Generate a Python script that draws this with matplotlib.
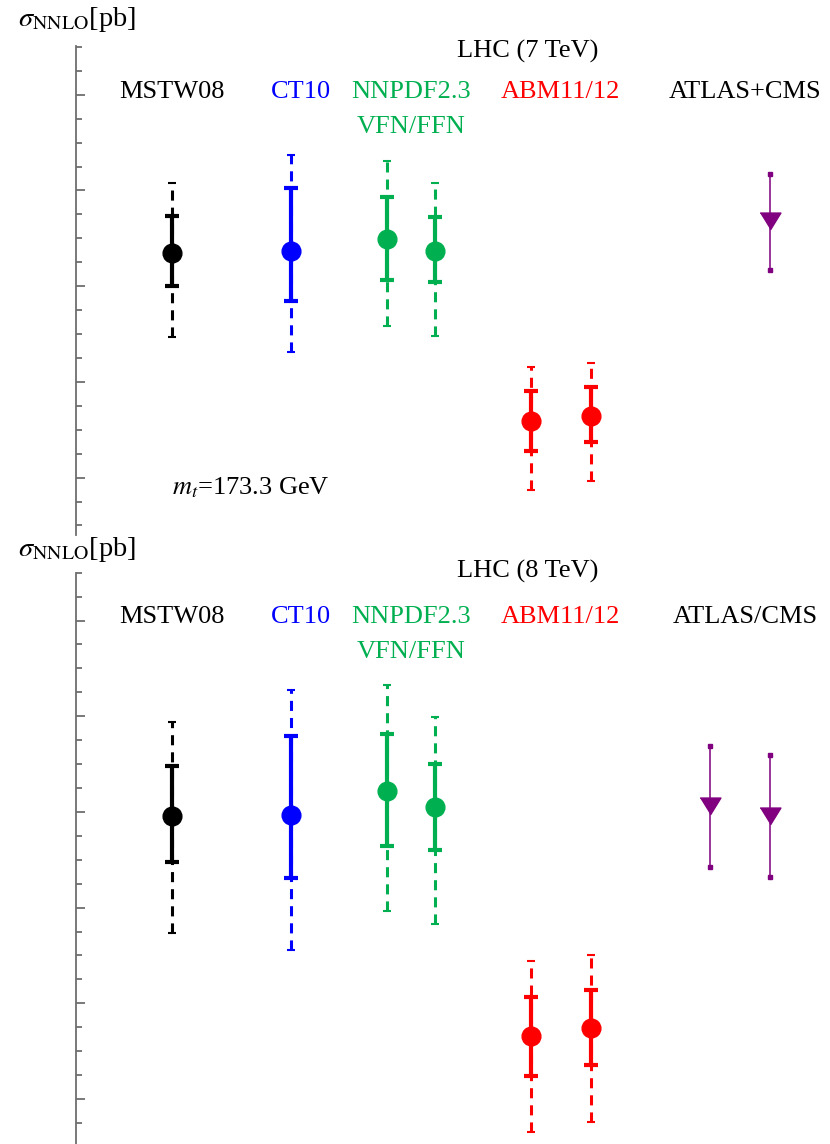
"""Top-pair NNLO cross sections at the LHC (7 and 8 TeV) for several PDF sets vs. data."""
import matplotlib
matplotlib.use("Agg")
import matplotlib.pyplot as plt
from matplotlib.ticker import MultipleLocator, NullFormatter

plt.rcParams["font.family"] = ["Liberation Serif", "DejaVu Serif"]
plt.rcParams["mathtext.fontset"] = "stix"

# PDF sets (x position on the category axis)
PDF_LABELS = ["MSTW08", "CT10", "NNPDF2.3 VFN", "NNPDF2.3 FFN", "ABM11", "ABM12"]
PDF_X = [1.0, 2.0, 2.8, 3.2, 4.0, 4.5]
PDF_COLORS = ["black", "#0000ff", "#00b050", "#00b050", "#ff0000", "#ff0000"]

# LHC 7 TeV, m_t = 173.3 GeV  [pb]
SIG7 = [167.0, 167.4, 169.9, 167.4, 131.9, 132.9]
INNER7_LO = [160.1, 156.9, 161.3, 160.8, 125.6, 127.4]
INNER7_HI = [174.7, 180.5, 178.6, 174.4, 138.0, 138.9]
OUTER7_LO = [149.4, 146.2, 151.6, 149.6, 117.4, 119.2]
OUTER7_HI = [181.5, 187.5, 186.1, 181.5, 143.1, 144.0]
EXP7_X = [6.0]
EXP7 = [173.7]
EXP7_LO = [163.3]
EXP7_HI = [183.5]

# LHC 8 TeV  [pb]
SIG8 = [239.2, 239.4, 244.4, 241.1, 193.1, 194.8]
INNER8_LO = [229.5, 226.1, 232.8, 232.1, 184.9, 187.2]
INNER8_HI = [249.5, 255.9, 256.2, 250.0, 201.4, 202.7]
OUTER8_LO = [214.7, 211.1, 219.2, 216.6, 173.1, 175.3]
OUTER8_HI = [258.8, 265.4, 266.6, 259.8, 208.8, 210.2]
EXP8_X = [5.5, 6.0]
EXP8 = [241.2, 239.2]
EXP8_LO = [228.4, 226.4]
EXP8_HI = [253.7, 251.8]

FS = 19
PURPLE = "#800080"
# 倒三角,略扁
TRI = [(-1, 0.81), (1, 0.81), (0, -0.81)]


def draw_panel(ax, sig, ilo, ihi, olo, ohi, ex, ev, elo, ehi):
    for x, c, s, a, b, lo, hi in zip(PDF_X, PDF_COLORS, sig, ilo, ihi, olo, ohi):
        ax.plot([x, x], [lo, hi], color=c, lw=2.2, ls=(0, (3.3, 2.3)), solid_capstyle="butt")
        ax.plot([x, x], [lo, hi], ls="none", marker="_", ms=6, mew=1.5, color=c)
        ax.plot([x, x], [a, b], color=c, lw=3.0, solid_capstyle="butt")
        ax.plot([x, x], [a, b], ls="none", marker="_", ms=10, mew=3.0, color=c)
        ax.plot(x, s, "o", ms=13.5, color=c, mec=c)
    for x, v, lo, hi in zip(ex, ev, elo, ehi):
        ax.plot([x, x], [lo, hi], color=PURPLE, lw=1.1)
        ax.plot([x, x], [lo, hi], ls="none", marker="s", ms=2.5, color=PURPLE)
        ax.plot(x, v, ls="none", marker=TRI, ms=15, color=PURPLE)

    ax.set_xlim(0.2, 6.5)
    for sp in ("top", "right", "bottom"):
        ax.spines[sp].set_visible(False)
    ax.spines["left"].set_color("#6e6e6e")
    ax.spines["left"].set_linewidth(1.3)
    ax.set_xticks([])
    ax.yaxis.set_major_locator(MultipleLocator(20))
    ax.yaxis.set_minor_locator(MultipleLocator(5))
    ax.yaxis.set_major_formatter(NullFormatter())
    ax.tick_params(axis="y", which="major", direction="in", length=6.5, width=1.1, color="#555555")
    ax.tick_params(axis="y", which="minor", direction="in", length=4, width=1.1, color="#555555")


def labels(ax, y_lhc, y_set, y_sub, lhc, exp):
    ax.text(3.97, y_lhc, lhc, ha="center", va="center", fontsize=FS, clip_on=False)
    ax.text(1.0, y_set, "MSTW08", ha="center", va="center", fontsize=FS, color="black")
    ax.text(2.08, y_set, "CT10", ha="center", va="center", fontsize=FS, color="#0000ff")
    ax.text(3.0, y_set, "NNPDF2.3", ha="center", va="center", fontsize=FS, color="#00b050")
    ax.text(3.0, y_sub, "VFN/FFN", ha="center", va="center", fontsize=FS, color="#00b050")
    ax.text(4.25, y_set, "ABM11/12", ha="center", va="center", fontsize=FS, color="#ff0000")
    ax.text(5.79, y_set, exp, ha="center", va="center", fontsize=FS, color="black")


def main():
    fig = plt.figure(figsize=(8.3, 11.44), dpi=100)
    ax7 = fig.add_axes([76 / 830, 1 - 535 / 1144, 754 / 830, 489 / 1144])
    ax8 = fig.add_axes([76 / 830, 0.0, 754 / 830, 571.3 / 1144])

    draw_panel(ax7, SIG7, INNER7_LO, INNER7_HI, OUTER7_LO, OUTER7_HI, EXP7_X, EXP7, EXP7_LO, EXP7_HI)
    ax7.set_ylim(108.0, 210.2)
    labels(ax7, 209.0, 200.6, 193.3, "LHC (7 TeV)", "ATLAS+CMS")
    ax7.text(1.66, 117.8, r"$m_t$=173.3 GeV", ha="center", va="center", fontsize=FS)

    draw_panel(ax8, SIG8, INNER8_LO, INNER8_HI, OUTER8_LO, OUTER8_HI, EXP8_X, EXP8, EXP8_LO, EXP8_HI)
    ax8.set_ylim(170.6, 290.0)
    labels(ax8, 290.2, 280.8, 273.5, "LHC (8 TeV)", "ATLAS/CMS")

    for yy in (19, 549):
        fig.text(18 / 830, 1 - yy / 1144, r"$\sigma_{\rm NNLO}$[pb]", ha="left", va="center", fontsize=20.5)

    fig.savefig("out.png", dpi=100)


if __name__ == "__main__":
    main()
